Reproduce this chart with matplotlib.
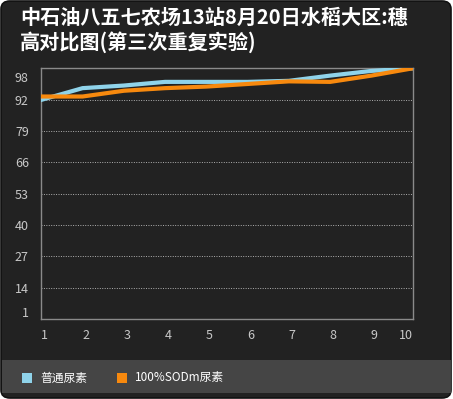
import numpy as np
import matplotlib
matplotlib.use("Agg")
import matplotlib.pyplot as plt
from matplotlib.patches import FancyBboxPatch, Rectangle
from matplotlib.transforms import ScaledTranslation

plt.rcParams['font.family'] = ['Noto Sans CJK SC', 'DejaVu Sans']

title = "中石油八五七农场13站8月20日水稻大区:穗\n高对比图(第三次重复实验)"
x = [1, 2, 3, 4, 5, 6, 7, 8, 9, 10]
putong = [91.9, 94.2, 94.7, 95.4, 95.4, 95.4, 95.6, 96.6, 97.5, 98.0]
sodm = [92.6, 92.6, 93.7, 94.2, 94.5, 95.0, 95.5, 95.4, 96.6, 98.0]
names = ["普通尿素", "100%SODm尿素"]
colors = ["#8fd3ea", "#f7890e"]
yticks = [1, 14, 27, 40, 53, 66, 79, 92, 98]

W, H = 453, 399
fig = plt.figure(figsize=(W / 100, H / 100), dpi=100)
fig.patch.set_facecolor("white")

# dark rounded panel + legend band
fig.patches.append(FancyBboxPatch((1 / W, 1 / H), 450 / W, 397 / H,
                                  boxstyle="round,pad=0,rounding_size=0.02",
                                  transform=fig.transFigure, facecolor="#222222",
                                  edgecolor="#111111", linewidth=1.2, zorder=-2))
fig.patches.append(Rectangle((2 / W, (H - 393) / H), 449 / W, 33 / H,
                             transform=fig.transFigure, facecolor="#454545",
                             edgecolor="none", zorder=-1))

fig.text(20 / W, 1 - 7 / H, title, color="white", fontsize=14.5, fontweight="bold",
         va="top", ha="left", linespacing=1.2)


# axis: 1..92 linear, 92..98 stretched (as in the original flash chart)
def fwd(v):
    v = np.asarray(v, dtype=float)
    return np.where(v <= 92, v, 92 + (v - 92) * 13 / 6)


def inv(v):
    v = np.asarray(v, dtype=float)
    return np.where(v <= 92, v, 92 + (v - 92) * 6 / 13)


ax = fig.add_axes([41.3 / W, (H - 319) / H, 371.4 / W, 250.7 / H])
ax.set_facecolor("#222222")
ax.set_yscale("function", functions=(fwd, inv))
ax.set_xlim(1, 10)
ax.set_ylim(1, 98)

for s in ax.spines.values():
    s.set_color("#8a8a8a")
    s.set_linewidth(1)

ax.set_yticks(yticks)
ax.set_yticklabels([str(v) for v in yticks])
ax.set_xticks(x)
ax.tick_params(length=0, colors="#c8c8c8", labelsize=9, pad=9)
ax.tick_params(axis="x", pad=7)
for v in yticks[1:-1]:
    ax.axhline(v, color="#b0b0b0", linestyle=(0, (1, 1.5)), linewidth=0.7, zorder=1)

# end labels sit a little inside the plot edges in the original
ylabs = ax.get_yticklabels()
ylabs[0].set_transform(ylabs[0].get_transform() + ScaledTranslation(0, 7 / 100, fig.dpi_scale_trans))
ylabs[-1].set_transform(ylabs[-1].get_transform() + ScaledTranslation(0, -9 / 100, fig.dpi_scale_trans))
for lab in ax.get_xticklabels()[:-1]:
    lab.set_transform(lab.get_transform() + ScaledTranslation(3 / 100, 0, fig.dpi_scale_trans))
xl = ax.get_xticklabels()[-1]
xl.set_transform(xl.get_transform() + ScaledTranslation(-7 / 100, 0, fig.dpi_scale_trans))

ax.plot(x, putong, color=colors[0], linewidth=3, solid_joinstyle="miter", zorder=3)
ax.plot(x, sodm, color=colors[1], linewidth=3, solid_joinstyle="miter", zorder=4)

# legend
lx = [22, 117]
for i in range(2):
    fig.patches.append(Rectangle((lx[i] / W, (H - 383) / H), 10 / W, 10 / H,
                                 transform=fig.transFigure, facecolor=colors[i],
                                 edgecolor="none"))
    fig.text((lx[i] + 18) / W, (H - 378) / H, names[i], color="white",
             fontsize=8.5, va="center", ha="left")

fig.savefig("out.png", dpi=100, facecolor=fig.get_facecolor())
